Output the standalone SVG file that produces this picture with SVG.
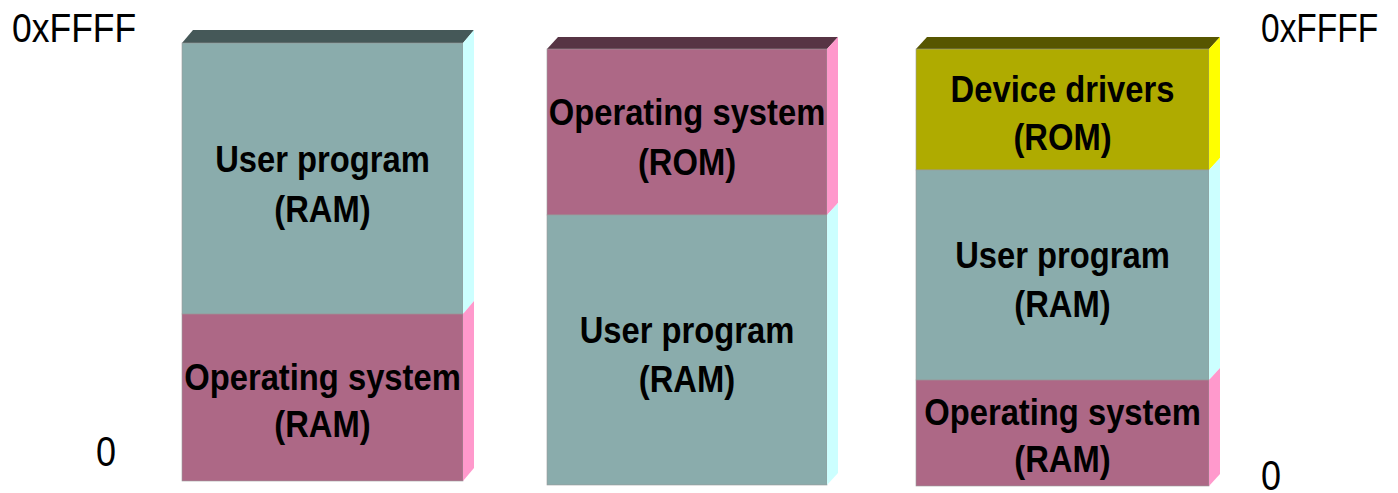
<svg xmlns="http://www.w3.org/2000/svg" width="1398" height="493" viewBox="0 0 1398 493">
  <style>
    .ram   { fill: #8aacac; }
    .os    { fill: #ad6886; }
    .dev   { fill: #afab00; }
    .ramSide { fill: #ccffff; }
    .osSide  { fill: #ff99cc; }
    .devSide { fill: #ffff00; }
    .ramTop  { fill: #455858; }
    .osTop   { fill: #573444; }
    .devTop  { fill: #575600; }
    .edge  { stroke: #9a9a9a; stroke-width: 0.6; }
    .lbl   { font-family: "Liberation Sans", Arial, sans-serif; font-weight: bold; font-size: 37px; fill: #000; text-anchor: middle; }
    .addr  { font-family: "Liberation Sans", Arial, sans-serif; fill: #000; }
  </style>

  <!-- address labels (narrow, tall digits) -->
  <g id="addr-labels">
    <text class="addr" font-size="35.5" transform="translate(12,42) scale(1,1.14)">0xFFFF</text>
    <text class="addr" font-size="36" transform="translate(96,466) scale(1,1.2)">0</text>
    <text class="addr" font-size="33.5" transform="translate(1261,42) scale(1,1.22)">0xFFFF</text>
    <text class="addr" font-size="36" transform="translate(1261,490) scale(1,1.2)">0</text>
  </g>

  <!-- memory map 1: OS in RAM at the bottom -->
  <g id="map1">
    <polygon class="ramTop" points="182,43 463,43 474,30 193,30"/>
    <g id="map1-user">
      <rect class="ram edge" x="182" y="43" width="281" height="271"/>
      <polygon class="ramSide" points="463,43 474,30 474,301 463,314"/>
      <g transform="translate(322.5,0) scale(0.885,1)">
        <text class="lbl" x="0" y="172">User program</text>
        <text class="lbl" x="0" y="222">(RAM)</text>
      </g>
    </g>
    <g id="map1-os">
      <rect class="os edge" x="182" y="314" width="281" height="167"/>
      <polygon class="osSide" points="463,314 474,301 474,468 463,481"/>
      <g transform="translate(322.5,0) scale(0.885,1)">
        <text class="lbl" x="0" y="390">Operating system</text>
        <text class="lbl" x="0" y="437">(RAM)</text>
      </g>
    </g>
  </g>

  <!-- memory map 2: OS in ROM at the top -->
  <g id="map2">
    <polygon class="osTop" points="547,49 827,49 838,37 558,37"/>
    <g id="map2-os">
      <rect class="os edge" x="547" y="49" width="280" height="166"/>
      <polygon class="osSide" points="827,49 838,37 838,203 827,215"/>
      <g transform="translate(687,0) scale(0.885,1)">
        <text class="lbl" x="0" y="125">Operating system</text>
        <text class="lbl" x="0" y="175">(ROM)</text>
      </g>
    </g>
    <g id="map2-user">
      <rect class="ram edge" x="547" y="215" width="280" height="270"/>
      <polygon class="ramSide" points="827,215 838,203 838,473 827,485"/>
      <g transform="translate(687,0) scale(0.885,1)">
        <text class="lbl" x="0" y="343">User program</text>
        <text class="lbl" x="0" y="392">(RAM)</text>
      </g>
    </g>
  </g>

  <!-- memory map 3: drivers in ROM, user program and OS in RAM -->
  <g id="map3">
    <polygon class="devTop" points="916,49 1209,49 1220,37 927,37"/>
    <g id="map3-drivers">
      <rect class="dev edge" x="916" y="49" width="293" height="121"/>
      <polygon class="devSide" points="1209,49 1220,37 1220,158 1209,170"/>
      <g transform="translate(1062.5,0) scale(0.885,1)">
        <text class="lbl" x="0" y="102">Device drivers</text>
        <text class="lbl" x="0" y="150">(ROM)</text>
      </g>
    </g>
    <g id="map3-user">
      <rect class="ram edge" x="916" y="170" width="293" height="210"/>
      <polygon class="ramSide" points="1209,170 1220,158 1220,368 1209,380"/>
      <g transform="translate(1062.5,0) scale(0.885,1)">
        <text class="lbl" x="0" y="268">User program</text>
        <text class="lbl" x="0" y="317">(RAM)</text>
      </g>
    </g>
    <g id="map3-os">
      <rect class="os edge" x="916" y="380" width="293" height="106"/>
      <polygon class="osSide" points="1209,380 1220,368 1220,474 1209,486"/>
      <g transform="translate(1062.5,0) scale(0.885,1)">
        <text class="lbl" x="0" y="425">Operating system</text>
        <text class="lbl" x="0" y="472">(RAM)</text>
      </g>
    </g>
  </g>
</svg>
